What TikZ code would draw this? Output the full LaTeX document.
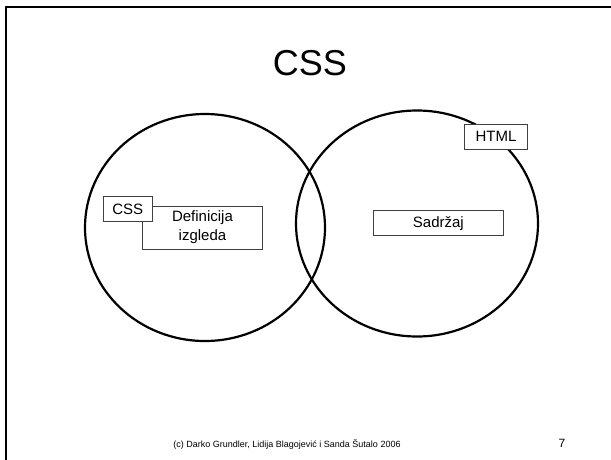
\documentclass[tikz,border=0pt]{standalone}
\usepackage{fontspec}
\setmainfont{Liberation Sans}
\begin{document}
\begin{tikzpicture}[x=1pt,y=-1pt,
    box/.style={draw=black!75,line width=0.8pt,fill=white,inner sep=0pt,align=center,font=\fontsize{15}{19}\selectfont},
    ring/.style={line width=2.2pt}]
                \useasboundingbox (0,0) rectangle (611,459);%

                % Drawing slide frame
                \draw [line width=2pt] (6,470) -- (6,7) -- (620,7);%

                % Drawing title
                \node (title) at (310,63) {\fontsize{36}{40}\selectfont CSS};%

                % Drawing set CSS
                \draw [ring] (205,227.5) ellipse [x radius=120pt, y radius=113.5pt];%

                % Drawing set HTML
                \draw [ring] (417,223.5) ellipse [x radius=121pt, y radius=113pt];%

                % Marking box Definicija izgleda
                \node [box, minimum width=120.4pt, minimum height=43pt] (def) at (202.5,227.5) {Definicija\\izgleda};%

                % Marking label CSS
                \node [box, minimum width=49pt, minimum height=25pt] (css) at (127.8,209.2) {CSS};%

                % Marking box Sadrzaj
                \node [box, minimum width=130.7pt, minimum height=25pt] (sadrzaj) at (438.4,223.2) {Sadržaj};%

                % Marking label HTML
                \node [box, minimum width=63.4pt, minimum height=24.7pt] (html) at (496,136.7) {HTML};%

                % Marking footer
                \node [anchor=base, font=\fontsize{9}{11}\selectfont] (foot) at (287,447) {(c) Darko Grundler, Lidija Blagojević i Sanda Šutalo 2006};%
                \node [anchor=base, font=\fontsize{12}{14}\selectfont] (page) at (562,447) {7};%
\end{tikzpicture}
\end{document}
